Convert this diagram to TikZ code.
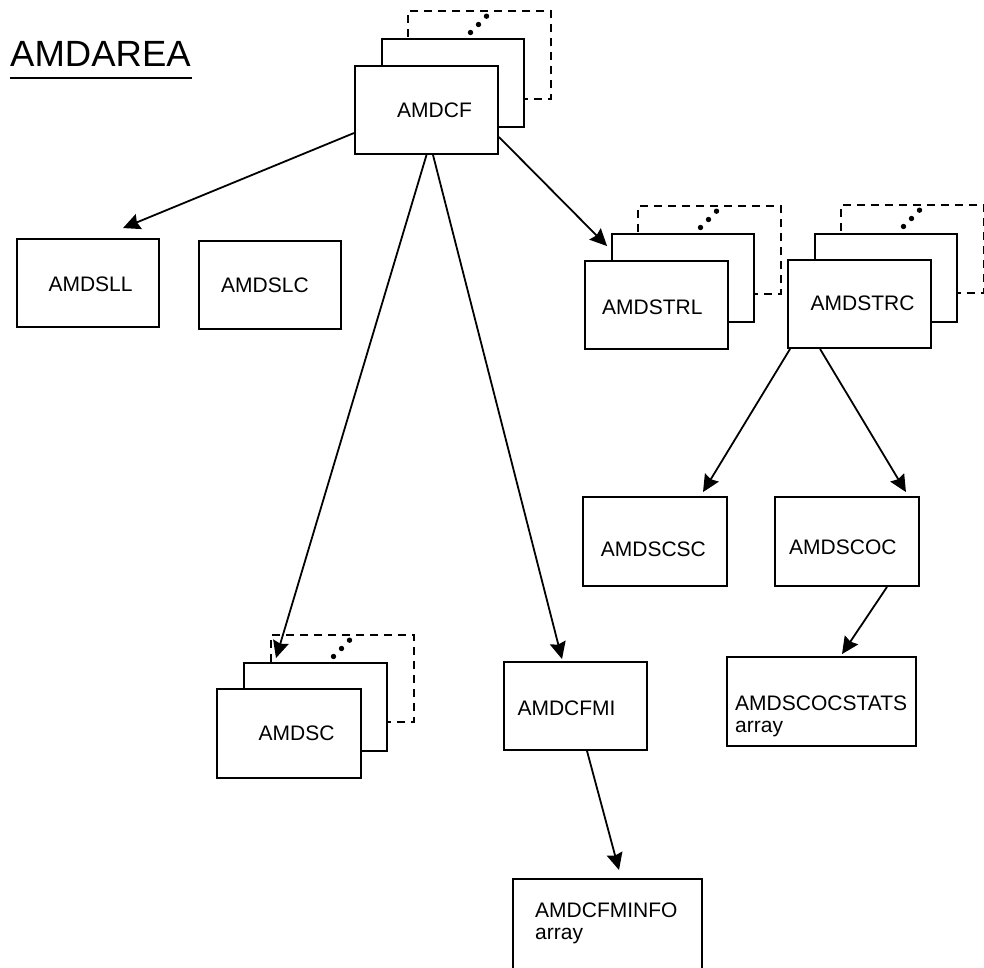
\documentclass[tikz,border=0pt]{standalone}
\usepackage{fontspec}
\setmainfont{Liberation Sans}
\usetikzlibrary{arrows.meta}
\tikzset{
  box/.style={draw, line width=1.9pt, fill=white, inner sep=0pt},
  dashbox/.style={draw, dash pattern=on 8pt off 6pt, line width=1.9pt, inner sep=0pt},
  arr/.style={-{Stealth[length=17pt,width=16pt,inset=2pt]}, line width=1.8pt},
  lbl/.style={font=\fontsize{21}{22}\selectfont, inner sep=0pt, anchor=base west, align=left},
  dotc/.style={fill=black},
}
\begin{document}
\begin{tikzpicture}[x=1pt,y=-1pt]
\useasboundingbox (0,0) rectangle (984,967);
\clip (0,0) rectangle (984,967);

% title
\node[font=\fontsize{36.5}{40}\selectfont, inner sep=0pt, anchor=base west] (title) at (10,66.7) {AMDAREA};
\draw[line width=2pt] (9.5,77.5) -- (191.5,77.5);

% ---- AMDCF stack
\node[dashbox, minimum width=143pt, minimum height=88pt] (cfd) at (479.5,55) {};
\node[box, minimum width=142pt, minimum height=88pt] (cfm) at (453,83) {};
\node[box, minimum width=143pt, minimum height=88pt] (cf) at (426.5,110) {};
\node[lbl] (cft) at (397,117) {AMDCF};

% ---- AMDSTRL stack
\node[dashbox, minimum width=143pt, minimum height=88pt] (strld) at (709.5,250) {};
\node[box, minimum width=142pt, minimum height=88pt] (strlm) at (683,278) {};
\node[box, minimum width=143pt, minimum height=88pt] (strl) at (656.5,305) {};
\node[lbl] (strlt) at (602,314) {AMDSTRL};

% ---- AMDSTRC stack
\node[dashbox, minimum width=143pt, minimum height=88pt] (strcd) at (912.5,249) {};
\node[box, minimum width=142pt, minimum height=88pt] (strcm) at (886,278) {};
\node[box, minimum width=143pt, minimum height=88pt] (strc) at (859.5,304) {};
\node[lbl] (strct) at (810.5,310.5) {AMDSTRC};

% ---- AMDSC stack
\node[dashbox, minimum width=143pt, minimum height=87pt] (scd) at (342.5,678.5) {};
\node[box, minimum width=143pt, minimum height=88pt] (scm) at (315.5,707) {};
\node[box, minimum width=144pt, minimum height=89pt] (sc) at (289,733.5) {};
\node[lbl] (sct) at (258.5,740) {AMDSC};

% dots
\foreach \cx/\cy in {551/11, 781/206, 984/205, 414/635}{
  \fill[dotc] (\cx-80.5,\cy+21.5) circle (2.7pt);
  \fill[dotc] (\cx-72.5,\cy+13.5) circle (2.7pt);
  \fill[dotc] (\cx-64.5,\cy+5.2) circle (2.7pt);
}

% ---- single boxes
\node[box, minimum width=142pt, minimum height=88pt] (sll) at (88,283) {};
\node[lbl] (sllt) at (48.3,291) {AMDSLL};
\node[box, minimum width=142pt, minimum height=88pt] (slc) at (270,285) {};
\node[lbl] (slct) at (221,292.5) {AMDSLC};
\node[box, minimum width=144pt, minimum height=89pt] (scsc) at (655,541.5) {};
\node[lbl] (scsct) at (600.7,556) {AMDSCSC};
\node[box, minimum width=144pt, minimum height=89pt] (scoc) at (847,541.5) {};
\node[lbl] (scoct) at (789,554.7) {AMDSCOC};
\node[box, minimum width=143pt, minimum height=88pt] (cfmi) at (575.5,706) {};
\node[lbl] (cfmit) at (517.3,715.7) {AMDCFMI};
\node[box, minimum width=189pt, minimum height=89pt] (stats) at (821.5,701.5) {};
\node[lbl] (statst) at (735,732) {AMDSCOCSTATS\\array};
\node[box, minimum width=189pt, minimum height=120pt] (cfminfo) at (607.5,939) {};
\node[lbl] (cfminfot) at (535,939) {AMDCFMINFO\\array};

% ---- connectors
\draw[arr] ([yshift=-23pt]cf.west) -- ([xshift=35pt,yshift=10pt]sll.north);
\draw[arr] (cf.south) -- ([xshift=-39.5pt,yshift=4pt]scm.north);
\draw[arr] ([xshift=6.5pt]cf.south) -- ([xshift=-13.5pt,yshift=2pt]cfmi.north);
\draw[arr] ([yshift=-27pt]cf.east) -- ([xshift=-4pt,yshift=-13pt]strlm.north west);
\draw[arr] ([xshift=3pt]strc.south west) -- ([xshift=48pt,yshift=4pt]scsc.north);
\draw[arr] ([xshift=33pt]strc.south west) -- ([xshift=-14pt,yshift=4pt]scoc.north east);
\draw[arr] ([xshift=40pt]scoc.south) -- ([xshift=20.5pt,yshift=2pt]stats.north);
\draw[arr] ([xshift=11.5pt]cfmi.south) -- ([xshift=11.5pt,yshift=8pt]cfminfo.north);
\end{tikzpicture}
\end{document}
